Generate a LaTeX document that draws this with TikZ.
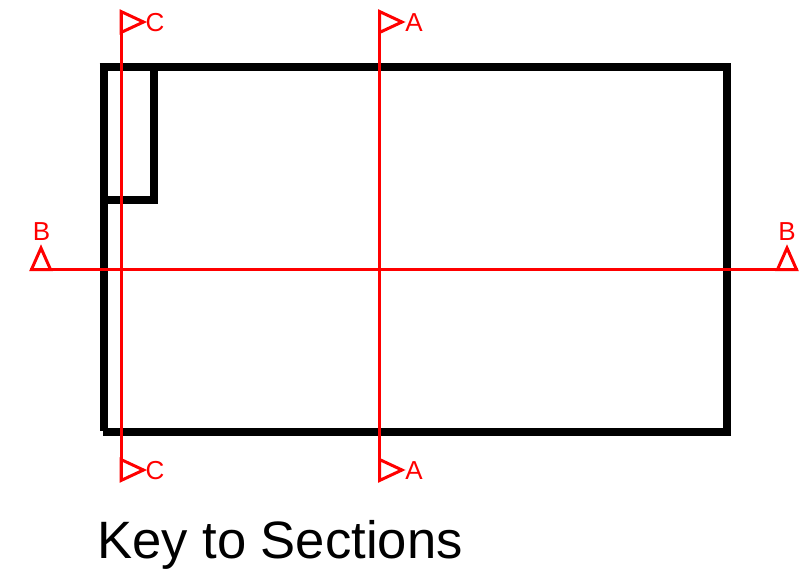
\documentclass[tikz,border=0pt]{standalone}
\usepackage{fontspec}
\setmainfont{Liberation Sans}
\definecolor{secred}{RGB}{255,0,0}
\tikzset{
  wall/.style={draw=black,line width=8pt,line cap=butt,line join=miter},
  secline/.style={draw=secred,line width=3pt,line cap=butt},
  flag/.style={draw=secred,line width=3pt,line join=miter,fill=none},
  seclabel/.style={text=secred,font=\fontsize{26}{26}\selectfont,inner sep=0pt,anchor=center},
  caption/.style={text=black,font=\fontsize{52.6}{52.6}\selectfont,inner sep=0pt,anchor=base west}
}
\begin{document}
\begin{tikzpicture}[x=1pt,y=-1pt]
\useasboundingbox (0,0) rectangle (802,578);
% building outline
\draw[wall] (99.5,67) -- (731,67);
\draw[wall] (727,63) -- (727,435.5);
\draw[wall] (731,431.5) -- (103,431.5);
\draw[wall] (103.5,63) -- (103.5,431);
\draw[wall] (154,67) -- (154,204);
\draw[wall] (103.5,200) -- (158,200);
% section end points
\coordinate (ctop) at (121,11);
\coordinate (cbot) at (121,481);
\coordinate (atop) at (379.5,11);
\coordinate (abot) at (379.5,481);
\coordinate (bleft) at (30,269.5);
\coordinate (bright) at (798,269.5);
% section lines
\draw[secline] (ctop) -- (cbot);
\draw[secline] (atop) -- (abot);
\draw[secline] (bleft) -- (bright);
% flags
\draw[flag] (121,11.5) -- (143.5,22) -- (121,32.5) -- cycle;
\draw[flag] (121,459.5) -- (143.5,470) -- (121,480.5) -- cycle;
\draw[flag] (379.5,11.5) -- (402,22) -- (379.5,32.5) -- cycle;
\draw[flag] (379.5,459.5) -- (402,470) -- (379.5,480.5) -- cycle;
\draw[flag] (31.5,269.5) -- (41,248) -- (50.5,269.5) -- cycle;
\draw[flag] (777.5,269.5) -- (787,248) -- (796.5,269.5) -- cycle;
% labels
\node[seclabel] (lct) at (155,22.5) {C};
\node[seclabel] (lcb) at (155,470.5) {C};
\node[seclabel] (lat) at (414,22.5) {A};
\node[seclabel] (lab) at (414,470.5) {A};
\node[seclabel] (lbl) at (41.5,232) {B};
\node[seclabel] (lbr) at (787,232) {B};
\node[caption] (cap) at (97,558) {Key to Sections};
\end{tikzpicture}
\end{document}
